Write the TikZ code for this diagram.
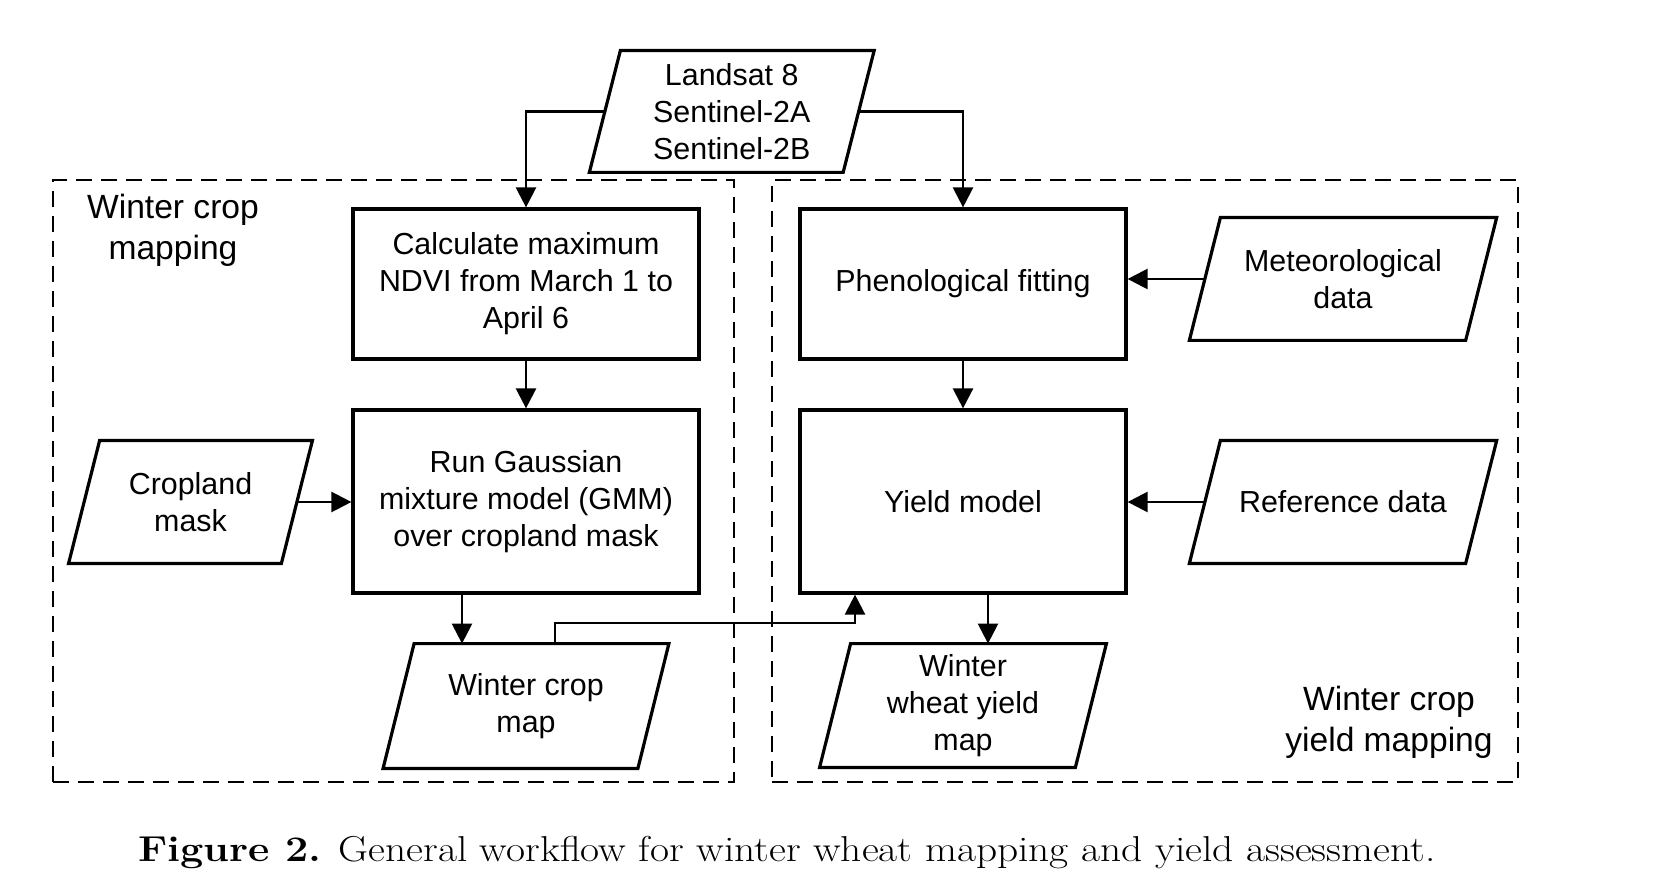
\documentclass[tikz,border=0pt]{standalone}
\usepackage{fontspec}
\newfontfamily\diag{Liberation Sans}
\usetikzlibrary{arrows.meta}
\newcommand\drawpara[1]{\draw[paraline] ([xshift=7.75pt]#1.north west) -- ([xshift=7.75pt]#1.north east) -- ([xshift=-7.75pt]#1.south east) -- ([xshift=-7.75pt]#1.south west) -- cycle;}
\begin{document}
\begin{tikzpicture}[x=0.5pt,y=-0.5pt,
  dfont/.style={font=\diag\fontsize{15.2}{18.5}\selectfont},
  box/.style={draw, line width=1.6pt, rectangle, align=center, dfont, inner sep=0pt},
  parnode/.style={rectangle, align=center, dfont, inner sep=0pt, minimum height=61pt},
  paraline/.style={line width=1.6pt, line join=miter},
  conn/.style={line width=1.2pt, -{Triangle[length=10pt,width=10pt]}},
  region/.style={draw, line width=1pt, dash pattern=on 8pt off 4.5pt, inner sep=0pt},
  lbl/.style={font=\diag\fontsize{16.8}{20.5}\selectfont, align=center}]
\useasboundingbox (0,0) rectangle (1668,892);
% regions
\node[region, minimum width=340.5pt, minimum height=301pt] (leftreg) at (393.5,481) {};
\node[region, minimum width=373pt, minimum height=301pt] (rightreg) at (1145,481) {};
\node[lbl] (lbl1) at (173,230) {Winter crop\\mapping};
\node[lbl] (lbl2) at (1389,722) {Winter crop\\yield mapping};
% parallelogram nodes
\node[parnode, minimum width=126.5pt, minimum height=60.5pt] (land) at (731.75,111.5) {Landsat 8\\Sentinel-2A\\Sentinel-2B};
\node[parnode, minimum width=106pt] (crop) at (190.5,502) {Cropland\\mask};
\node[parnode, minimum width=127pt, minimum height=62pt] (wcm) at (526,706) {Winter crop\\map};
\node[parnode, minimum width=127.5pt, minimum height=61.5pt] (wwym) at (963,705.5) {Winter\\wheat yield\\map};
\node[parnode, minimum width=137.75pt] (meteo) at (1343,279) {Meteorological\\data};
\node[parnode, minimum width=137.75pt] (ref) at (1343,502) {Reference data};
\foreach \n in {land,crop,wcm,wwym,meteo,ref} {\drawpara{\n}}
% boxes
\node[box, minimum width=173pt, minimum height=75pt] (calc) at (526,284) {Calculate maximum\\NDVI from March 1 to\\April 6};
\node[box, minimum width=173pt, minimum height=91.5pt] (gmm) at (526,501.5) {Run Gaussian\\mixture model (GMM)\\over cropland mask};
\node[box, minimum width=163pt, minimum height=75pt] (phen) at (963,284) {Phenological fitting};
\node[box, minimum width=163pt, minimum height=91.5pt] (yield) at (963,501.5) {Yield model};
% connectors
\draw[conn] (land.west) -| (calc.north);
\draw[conn] (land.east) -| (phen.north);
\draw[conn] (calc.south) -- (gmm.north);
\draw[conn] (crop.east) -- (crop.east -| gmm.west);
\draw[conn] ([xshift=-32pt]gmm.south) -- ([xshift=-32pt]gmm.south |- wcm.north);
\coordinate (j) at (855,623);
\draw[conn] ([xshift=14.5pt]wcm.north) |- (j) -- (j |- yield.south);
\draw[conn] (phen.south) -- (yield.north);
\draw[conn] ([xshift=12.5pt]yield.south) -- ([xshift=12.5pt]yield.south |- wwym.north);
\draw[conn] (meteo.west) -- (meteo.west -| phen.east);
\draw[conn] (ref.west) -- (ref.west -| yield.east);
% caption
\node (cap) at (787,853) {\scalebox{1.15}[1]{\fontsize{18}{21}\selectfont\textbf{Figure 2.} General workflow for winter wheat mapping and yield assessment.}};
\end{tikzpicture}
\end{document}
